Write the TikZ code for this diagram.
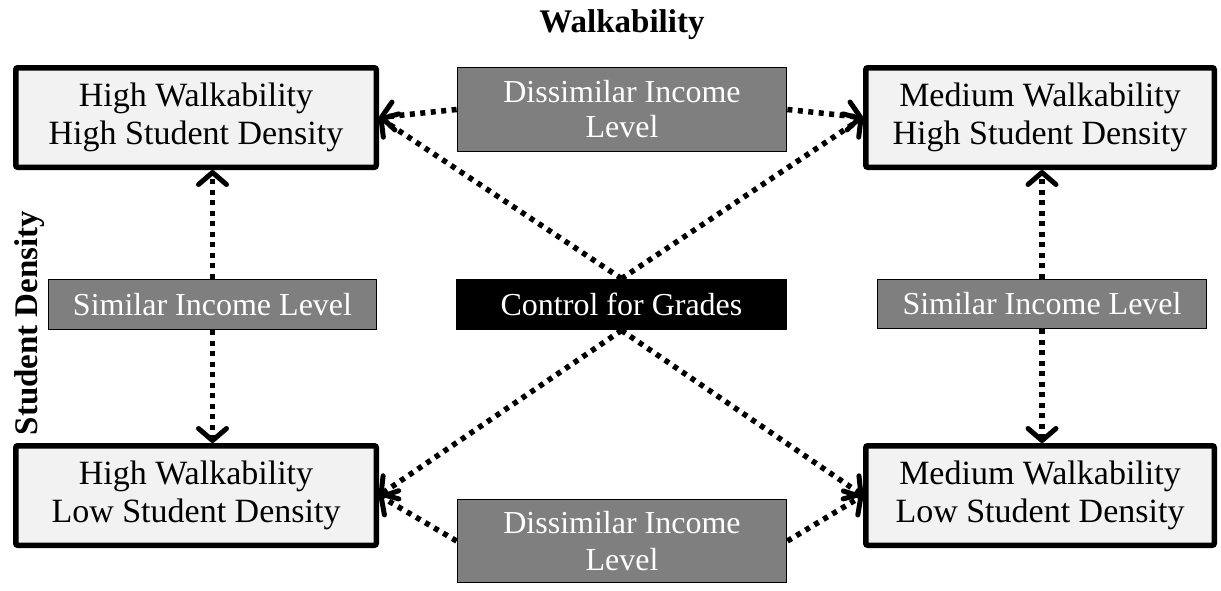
\documentclass[tikz,border=0pt]{standalone}
\usepackage{fontspec}
\setmainfont{Liberation Serif}
\usetikzlibrary{arrows.meta}
\definecolor{boxfill}{HTML}{F2F2F2}
\definecolor{grayfill}{HTML}{7F7F7F}
\begin{document}
\begin{tikzpicture}[x=1pt,y=-1pt,
  mainbox/.style={draw=black, line width=5.5pt, fill=boxfill, rounded corners=2pt,
    align=center, inner sep=0pt, font=\fontsize{34}{38}\selectfont},
  graybox/.style={draw=black, line width=1.8pt, fill=grayfill, text=white,
    align=center, inner sep=0pt, font=\fontsize{32}{35}\selectfont},
  blackbox/.style={draw=black, line width=1.8pt, fill=black, text=white,
    align=center, inner sep=0pt, font=\fontsize{32}{35}\selectfont},
  link/.style={line width=5.5pt, dash pattern=on 5pt off 5.5pt,
    -{Straight Barb[length=12pt,width=28pt,line width=5pt,line cap=round,line join=round]}},
  axislabel/.style={font=\bfseries\fontsize{33}{36}\selectfont, inner sep=0pt}
]
\useasboundingbox (0,0) rectangle (1221,590);

% main boxes
\node[mainbox, minimum width=360.5pt, minimum height=99.5pt] (TL) at (196,117.5)
  {High Walkability\\High Student Density};
\node[mainbox, minimum width=348.5pt, minimum height=99.5pt] (TR) at (1040,117.5)
  {Medium Walkability\\High Student Density};
\node[mainbox, minimum width=360.5pt, minimum height=99.5pt] (BL) at (196,495.5)
  {High Walkability\\Low Student Density};
\node[mainbox, minimum width=348.5pt, minimum height=99.5pt] (BR) at (1040,495.5)
  {Medium Walkability\\Low Student Density};

% gray / black boxes
\node[graybox, minimum width=329pt, minimum height=84pt] (DT) at (622,109.5)
  {Dissimilar Income\\Level};
\node[graybox, minimum width=329pt, minimum height=83pt] (DB) at (622,541)
  {\raisebox{-7pt}{Dissimilar Income}\\\raisebox{-9pt}{Level}};
\node[graybox, minimum width=328pt, minimum height=50pt] (SL) at (212.5,304.5)
  {Similar Income Level};
\node[graybox, minimum width=329pt, minimum height=49pt] (SR) at (1042,304)
  {Similar Income Level};
\node[blackbox, minimum width=330pt, minimum height=50pt] (CG) at (621.5,304.5)
  {Control for Grades};

% axis labels
\node[axislabel, anchor=base] (title) at (622,32) {Walkability};
\node[axislabel, anchor=base, rotate=90] (side) at (37,323) {Student Density};

% connectors
\draw[link] (DT.west) -- (TL.east);
\draw[link] (DT.east) -- (TR.west);
\draw[link] (DB.west) -- (BL.east);
\draw[link] (DB.east) -- (BR.west);
\draw[link] (CG.north) -- (TL.east);
\draw[link] (CG.north) -- (TR.west);
\draw[link] (CG.south) -- (BL.east);
\draw[link] (CG.south) -- (BR.west);
\draw[link] (SL.north) -- (SL.north |- TL.south);
\draw[link] (SL.south) -- (SL.south |- BL.north);
\draw[link] (SR.north) -- (SR.north |- TR.south);
\draw[link] (SR.south) -- (SR.south |- BR.north);
\end{tikzpicture}
\end{document}
